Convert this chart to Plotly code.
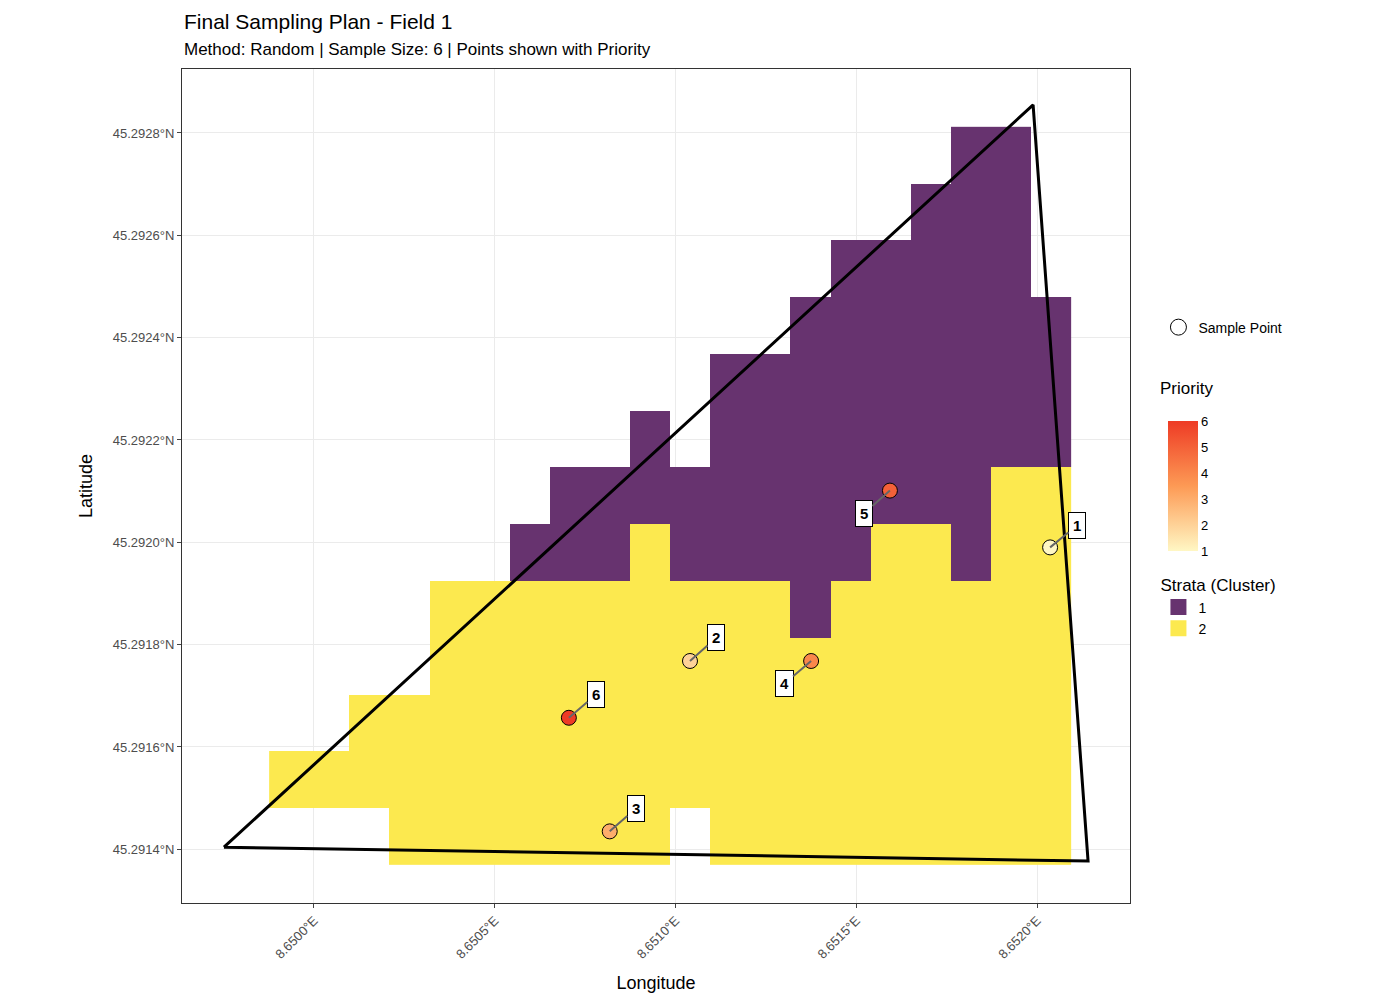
import numpy as np
import plotly.graph_objects as go

# grid cell layout (column -> rows per stratum)
lon0, lat0 = 8.649876, 45.291369
cell_lon, cell_lat = 0.0001109, 0.000111
yellow_rows = {0: [1], 1: [1], 2: [1, 2], 3: [0, 1, 2], 4: range(0, 5), 5: range(0, 5),
               6: range(0, 5), 7: range(0, 5), 8: range(0, 5), 9: range(0, 6),
               10: range(1, 5), 11: range(0, 5), 12: range(0, 5), 13: range(0, 4),
               14: range(0, 5), 15: range(0, 6), 16: range(0, 6), 17: range(0, 5),
               18: range(0, 7), 19: range(0, 7)}
purple_rows = {6: [5], 7: [5, 6], 8: [5, 6], 9: [6, 7], 10: [5, 6], 11: range(5, 9),
               12: range(5, 9), 13: range(4, 10), 14: range(5, 11), 15: range(6, 11),
               16: range(6, 12), 17: range(5, 13), 18: range(7, 13), 19: range(7, 10)}

field_lon = [8.649751, 8.651989, 8.652141, 8.649751]
field_lat = [45.291404, 45.292855, 45.291377, 45.291404]

pt_lon = [8.652036, 8.651040, 8.650818, 8.651375, 8.651593, 8.650705]
pt_lat = [45.291990, 45.291768, 45.291435, 45.291768, 45.292101, 45.291657]
pt_id = [1, 2, 3, 4, 5, 6]
priority = [1, 2, 3, 4, 5, 6]
lab_off = [(27, -22), (26, -23), (26, -23), (-27, 23), (-26, 23), (27, -23)]

ncol, nrow = 20, 13
z = np.full((nrow, ncol), np.nan)
for c, rows in yellow_rows.items():
    for r in rows:
        z[r, c] = 2
for c, rows in purple_rows.items():
    for r in rows:
        z[r, c] = 1
xc = [lon0 + cell_lon * (i + 0.5) for i in range(ncol)]
yc = [lat0 + cell_lat * (j + 0.5) for j in range(nrow)]

purple, yellow = "#67336f", "#fce94f"
pscale = [[0, "#fff7c4"], [0.5, "#fd9a55"], [1, "#ee3b25"]]

fig = go.Figure()
fig.add_trace(go.Heatmap(x=xc, y=yc, z=z, zmin=1, zmax=2,
                         colorscale=[[0, purple], [0.5, purple], [0.5, yellow], [1, yellow]],
                         showscale=False, hoverongaps=False))
fig.add_trace(go.Scatter(x=field_lon, y=field_lat, mode="lines",
                         line=dict(color="black", width=3), showlegend=False))
fig.add_trace(go.Scatter(x=pt_lon, y=pt_lat, mode="markers", showlegend=False,
                         marker=dict(size=15, color=priority, colorscale=pscale, cmin=1, cmax=6,
                                     line=dict(color="black", width=1),
                                     colorbar=dict(x=1.03, xanchor="left", y=0.50, yanchor="middle",
                                                   len=0.18, thickness=30, outlinewidth=0,
                                                   tickvals=[1, 2, 3, 4, 5, 6], ticks="",
                                                   tickfont=dict(size=13)))))
fig.add_trace(go.Scatter(x=[None], y=[None], mode="markers", name="Sample Point",
                         marker=dict(size=16, color="white", line=dict(color="black", width=1)),
                         legend="legend"))
for name, col in [("1", purple), ("2", yellow)]:
    fig.add_trace(go.Scatter(x=[None], y=[None], mode="markers", name=name,
                             marker=dict(size=30, symbol="square", color=col), legend="legend2"))

for lo, la, i, (dx, dy) in zip(pt_lon, pt_lat, pt_id, lab_off):
    fig.add_annotation(x=lo, y=la, text="<b>%d</b>" % i, ax=dx, ay=dy, showarrow=True,
                       arrowhead=0, arrowcolor="#666", arrowwidth=2, bgcolor="white",
                       bordercolor="black", borderwidth=1, borderpad=4,
                       font=dict(size=15, color="black"))

fig.add_annotation(x=0, y=1, xref="paper", yref="paper", xanchor="left", yanchor="bottom",
                   yshift=34, showarrow=False, text="Final Sampling Plan - Field 1",
                   font=dict(size=21))
fig.add_annotation(x=0, y=1, xref="paper", yref="paper", xanchor="left", yanchor="bottom",
                   yshift=8, showarrow=False,
                   text="Method: Random | Sample Size: 6 | Points shown with Priority",
                   font=dict(size=17))
fig.add_annotation(x=1.03, y=0.603, xref="paper", yref="paper", xanchor="left", yanchor="bottom",
                   showarrow=False, text="Priority", font=dict(size=17))

xt = [8.6500, 8.6505, 8.6510, 8.6515, 8.6520]
yt = [45.2914, 45.2916, 45.2918, 45.2920, 45.2922, 45.2924, 45.2926, 45.2928]
fig.update_layout(
    width=1370, height=993, plot_bgcolor="white", paper_bgcolor="white",
    margin=dict(l=174, r=248, t=61, b=95),
    font=dict(family="Liberation Sans, Arial", color="black"),
    xaxis=dict(range=[8.649635, 8.652257], tickvals=xt, ticktext=["%.4f°E" % v for v in xt],
               tickangle=-45, showgrid=True, gridcolor="#ebebeb", mirror=True, showline=True,
               linecolor="#333", ticks="outside", ticklen=4, tickfont=dict(size=13, color="#4d4d4d"),
               title=dict(text="Longitude", font=dict(size=18)), zeroline=False),
    yaxis=dict(range=[45.291295, 45.292925], tickvals=yt, ticktext=["%.4f°N" % v for v in yt],
               showgrid=True, gridcolor="#ebebeb", mirror=True, showline=True, linecolor="#333",
               ticks="outside", ticklen=4, tickfont=dict(size=13, color="#4d4d4d"),
               title=dict(text="Latitude", font=dict(size=18)), zeroline=False),
    legend=dict(x=1.03, y=0.69, xanchor="left", yanchor="middle", font=dict(size=14)),
    legend2=dict(x=1.03, y=0.40, xanchor="left", yanchor="top", font=dict(size=14),
                 title=dict(text="Strata (Cluster)", font=dict(size=17)), tracegroupgap=0),
)
fig.write_html("out.html")
